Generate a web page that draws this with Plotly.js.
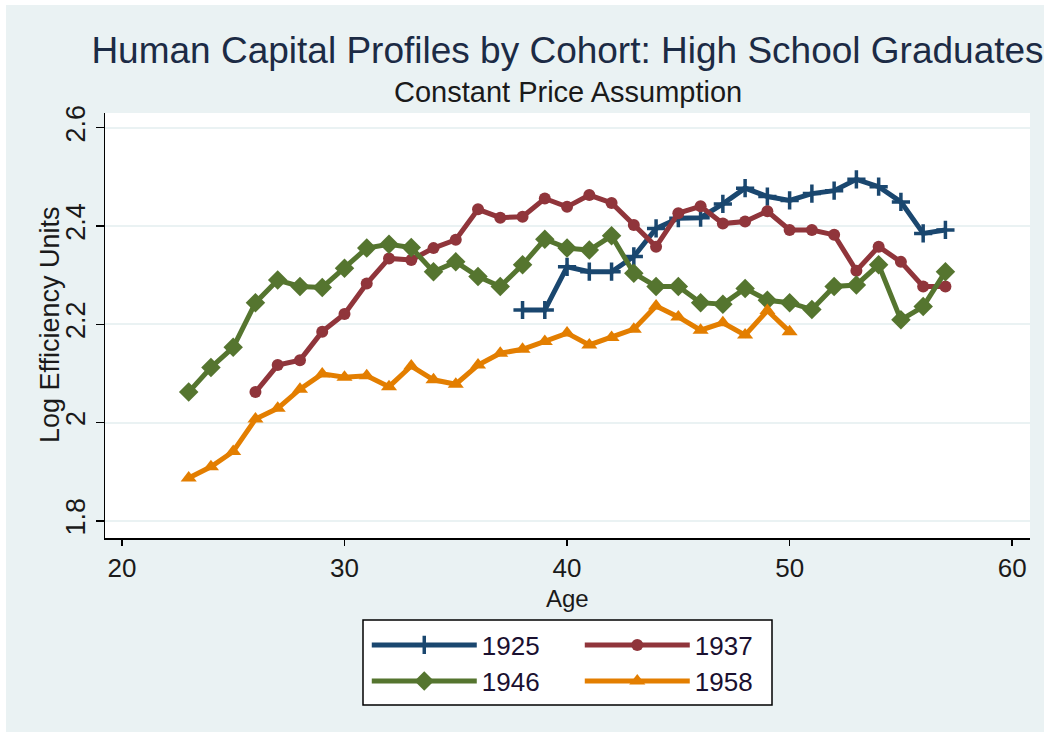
<!DOCTYPE html>
<html>
<head>
<meta charset="utf-8">
<script src="https://cdn.plot.ly/plotly-3.0.1.min.js"></script>
<style>
html,body{margin:0;padding:0;background:#eaf2f3;}
#wrap{position:relative;width:1044px;height:732px;}
#chart{width:1044px;height:732px;}
.edge{position:absolute;background:#ffffff;z-index:10;}
</style>
</head>
<body>
<div id="wrap">
<div id="chart"></div>
<div class="edge" style="left:0;top:0;width:1044px;height:5px;"></div>
<div class="edge" style="left:0;top:0;width:6px;height:732px;"></div>
</div>
<script>
const ages1925 = [38,39,40,41,42,43,44,45,46,47,48,49,50,51,52,53,54,55,56,57];
const vals1925 = [2.229,2.229,2.317,2.307,2.307,2.338,2.395,2.416,2.417,2.445,2.477,2.460,2.452,2.466,2.472,2.495,2.480,2.449,2.385,2.392];

const ages1937 = [26,27,28,29,30,31,32,33,34,35,36,37,38,39,40,41,42,43,44,45,46,47,48,49,50,51,52,53,54,55,56,57];
const vals1937 = [2.062,2.117,2.127,2.185,2.221,2.283,2.334,2.331,2.355,2.372,2.434,2.417,2.419,2.456,2.439,2.463,2.447,2.402,2.358,2.426,2.440,2.405,2.409,2.430,2.392,2.392,2.382,2.309,2.358,2.327,2.277,2.277];

const ages1946 = [23,24,25,26,27,28,29,30,31,32,33,34,35,36,37,38,39,40,41,42,43,44,45,46,47,48,49,50,51,52,53,54,55,56,57];
const vals1946 = [2.062,2.112,2.153,2.244,2.290,2.277,2.275,2.314,2.355,2.363,2.356,2.307,2.327,2.297,2.277,2.321,2.373,2.355,2.351,2.380,2.304,2.277,2.277,2.244,2.241,2.273,2.249,2.244,2.230,2.277,2.280,2.321,2.209,2.236,2.307];

const ages1958 = [23,24,25,26,27,28,29,30,31,32,33,34,35,36,37,38,39,40,41,42,43,44,45,46,47,48,49,50];
const vals1958 = [1.887,1.910,1.941,2.007,2.029,2.068,2.099,2.092,2.095,2.073,2.115,2.087,2.078,2.117,2.141,2.149,2.165,2.182,2.158,2.173,2.190,2.237,2.215,2.188,2.203,2.178,2.228,2.185];

const xTicks = [20,30,40,50,60];
const yTicks = [1.8,2.0,2.2,2.4,2.6];
const yTickText = ['1.8','2','2.2','2.4','2.6'];

const FONT = 'Liberation Sans, Arial, sans-serif';
const TXT = '#1a1a1a';

const traces = [
  {x: ages1925, y: vals1925, name: '1925', mode: 'lines+markers', legend: 'legend',
   line: {color: '#1a476f', width: 5},
   marker: {symbol: 'cross-thin', size: 13, color: '#1a476f', line: {color: '#1a476f', width: 3.5}}},
  {x: ages1937, y: vals1937, name: '1937', mode: 'lines+markers', legend: 'legend',
   line: {color: '#90353b', width: 5},
   marker: {symbol: 'circle', size: 12, color: '#90353b'}},
  {x: ages1946, y: vals1946, name: '1946', mode: 'lines+markers', legend: 'legend2',
   line: {color: '#55752f', width: 5},
   marker: {symbol: 'diamond', size: 15, color: '#55752f'}},
  {x: ages1958, y: vals1958, name: '1958', mode: 'lines+markers', legend: 'legend2',
   line: {color: '#e37e00', width: 5},
   marker: {symbol: 'triangle-up', size: 14, color: '#e37e00'}}
];

const legendCommon = {
  orientation: 'h', xanchor: 'left', yanchor: 'middle', x: 0.283,
  bgcolor: 'rgba(0,0,0,0)', borderwidth: 0,
  font: {family: FONT, size: 26, color: '#1a1030'},
  entrywidth: 93, entrywidthmode: 'pixels', itemwidth: 105, traceorder: 'normal'
};

const layout = {
  width: 1044, height: 732,
  margin: {l: 105, r: 14, t: 113, b: 194},
  paper_bgcolor: '#eaf2f3', plot_bgcolor: '#ffffff',
  font: {family: FONT, color: '#000000'},
  showlegend: true,
  title: {text: 'Human Capital Profiles by Cohort: High School Graduates',
          x: 0.5, xref: 'paper', xanchor: 'center', y: 1 - 50/732, yref: 'container', yanchor: 'middle',
          font: {family: FONT, size: 37, color: '#1c2b45'}},
  annotations: [
    {text: 'Constant Price Assumption', xref: 'paper', yref: 'paper', x: 0.5, y: (538-92)/425,
     xanchor: 'center', yanchor: 'middle', showarrow: false,
     font: {family: FONT, size: 29, color: TXT}},
    {text: 'Age', xref: 'paper', yref: 'paper', x: (567-105)/925, y: (538-598)/425,
     xanchor: 'center', yanchor: 'middle', showarrow: false,
     font: {family: FONT, size: 24, color: TXT}},
    {text: 'Log Efficiency Units', xref: 'paper', yref: 'paper', x: (50-105)/925, y: (538-325)/425,
     xanchor: 'center', yanchor: 'middle', textangle: -90, showarrow: false,
     font: {family: FONT, size: 27, color: TXT}}
  ],
  xaxis: {range: [19.24, 60.8], tickvals: xTicks, ticktext: xTicks.map(String),
          showgrid: false, zeroline: false, showline: true, linecolor: '#000', linewidth: 1.5,
          ticks: 'outside', ticklen: 6, tickwidth: 1.5, tickcolor: '#000',
          tickfont: {family: FONT, size: 26, color: TXT}},
  yaxis: {range: [1.765, 2.63], tickvals: yTicks, ticktext: yTickText, tickangle: -90,
          showgrid: true, gridcolor: '#eaf2f3', gridwidth: 2, zeroline: false,
          showline: true, linecolor: '#000', linewidth: 1.5,
          ticks: 'outside', ticklen: 8, tickwidth: 1.5, tickcolor: '#000',
          tickfont: {family: FONT, size: 27, color: TXT}},
  legend: Object.assign({}, legendCommon, {y: (538-645)/425}),
  legend2: Object.assign({}, legendCommon, {y: (538-681)/425}),
  shapes: [{type: 'rect', xref: 'paper', yref: 'paper', layer: 'below',
            x0: (363-105)/925, x1: (772-105)/925, y0: (538-620)/425, y1: (538-705)/425,
            fillcolor: '#ffffff', line: {color: '#000', width: 1.5}}]
};

Plotly.newPlot('chart', traces, layout, {displayModeBar: false, staticPlot: true});
</script>
</body>
</html>
